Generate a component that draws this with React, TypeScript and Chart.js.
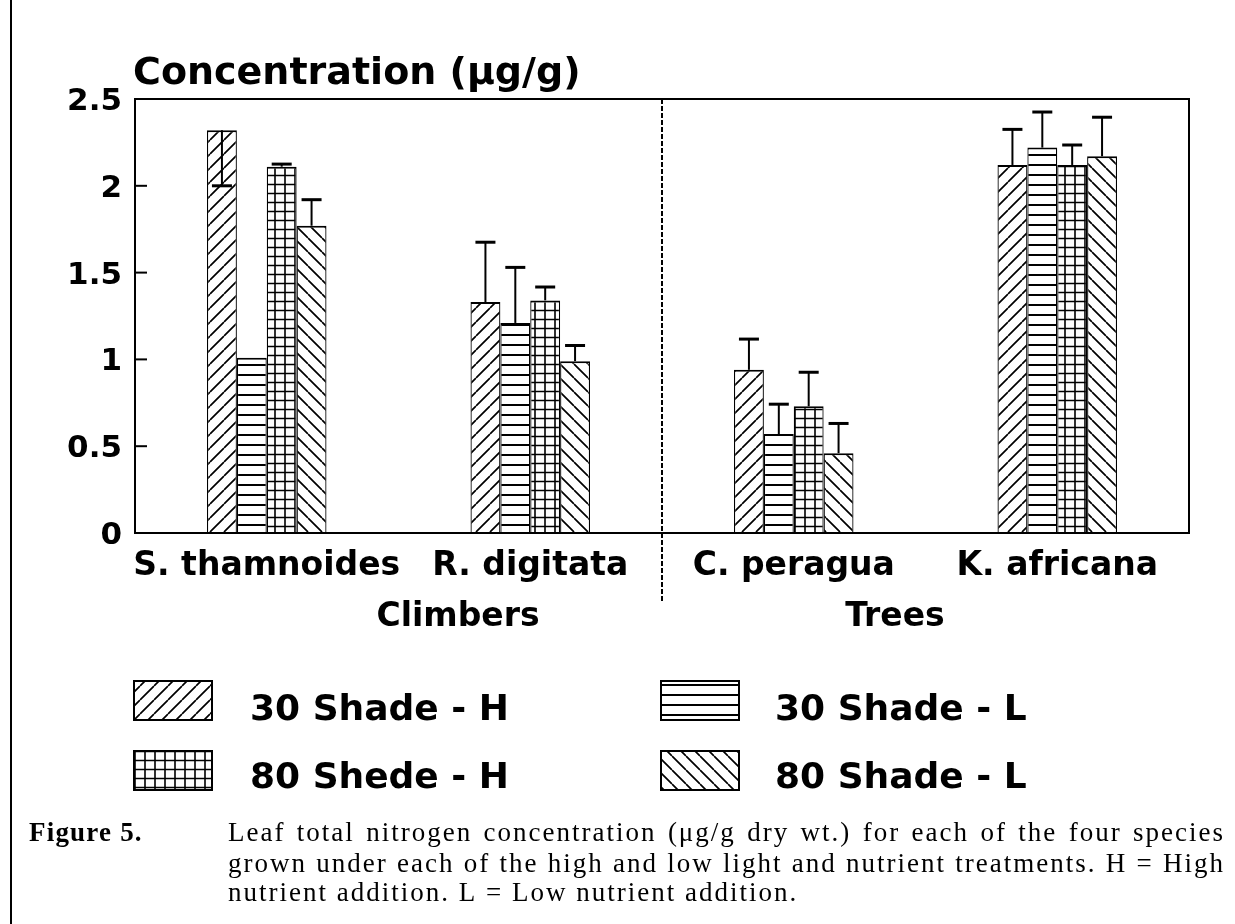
import React, { useEffect, useRef } from 'react';
import { Chart, registerables } from 'chart.js';

Chart.register(...registerables);

// ---------- data ----------
const categories = ['S. thamnoides', 'R. digitata', 'C. peragua', 'K. africana'];
const groupLabels = ['Climbers', 'Trees'];
const seriesNames = ['30 Shade - H', '30 Shade - L', '80 Shede - H', '80 Shade - L'];

const shade30H = [2.32, 1.33, 0.94, 2.12];
const shade30L = [1.01, 1.21, 0.57, 2.22];
const shade80H = [2.11, 1.34, 0.73, 2.12];
const shade80L = [1.77, 0.99, 0.46, 2.17];

// standard errors (negative = bar drawn downward, as printed in the figure)
const err30H = [-0.32, 0.345, 0.177, 0.205];
const err30L = [0, 0.32, 0.172, 0.205];
const err80H = [0.015, 0.077, 0.196, 0.115];
const err80L = [0.15, 0.09, 0.171, 0.225];

const yTickValues = [0, 0.5, 1, 1.5, 2, 2.5];
const yTickLabels = ['0', '0.5', '1', '1.5', '2', '2.5'];

const titleText = 'Concentration (\u00b5g/g)';
const figureLabel = 'Figure 5.';
const captionLines = [
  'Leaf total nitrogen concentration (\u03bcg/g dry wt.) for each of the four species',
  'grown under each of the high and low light and nutrient treatments. H = High',
  'nutrient addition. L = Low nutrient addition.',
];

const seriesValues = [shade30H, shade30L, shade80H, shade80L];
const seriesErrors = [err30H, err30L, err80H, err80L];
const hatchKinds = ['fwd', 'horiz', 'grid', 'back'];

const SANS = '"DejaVu Sans", "Liberation Sans", sans-serif';
const SERIF = '"Liberation Serif", "DejaVu Serif", serif';

function makeHatch(main: CanvasRenderingContext2D, kind: string): CanvasPattern {
  const c = document.createElement('canvas');
  let w = 14;
  let h = 14;
  if (kind === 'horiz') { w = 10; h = 10; }
  if (kind === 'grid') { w = 10; h = 9; }
  c.width = w;
  c.height = h;
  const g = c.getContext('2d') as CanvasRenderingContext2D;
  g.fillStyle = '#fff';
  g.fillRect(0, 0, w, h);
  g.strokeStyle = '#000';
  g.beginPath();
  if (kind === 'fwd') {
    g.lineWidth = 1.7;
    for (const o of [-w, 0, w]) { g.moveTo(o, h); g.lineTo(o + w, 0); }
  } else if (kind === 'back') {
    g.lineWidth = 1.7;
    for (const o of [-w, 0, w]) { g.moveTo(o, 0); g.lineTo(o + w, h); }
  } else if (kind === 'horiz') {
    g.lineWidth = 2;
    g.moveTo(0, 5); g.lineTo(w, 5);
  } else {
    g.lineWidth = 1.6;
    g.moveTo(0, 4.5); g.lineTo(w, 4.5);
    g.moveTo(5, 0); g.lineTo(5, h);
  }
  g.stroke();
  return main.createPattern(c, 'repeat') as CanvasPattern;
}

function drawJustified(ctx: CanvasRenderingContext2D, text: string, x: number, yb: number, width: number) {
  const words = text.split(' ');
  const ws = words.map((w) => ctx.measureText(w).width);
  const total = ws.reduce((s, v) => s + v, 0);
  const gap = (width - total) / (words.length - 1);
  let cx = x;
  words.forEach((w, k) => {
    ctx.fillText(w, cx, yb);
    cx += ws[k] + gap;
  });
}

const decorPlugin = {
  id: 'decor',
  afterDatasetsDraw(chart: any) {
    const { ctx, chartArea: a, scales } = chart;
    const x = scales.x;
    const y = scales.y;
    ctx.save();
    ctx.strokeStyle = '#000';
    // error bars
    chart.data.datasets.forEach((ds: any, i: number) => {
      const meta = chart.getDatasetMeta(i);
      meta.data.forEach((el: any, j: number) => {
        const e = seriesErrors[i][j];
        if (!e) return;
        const v = ds.data[j] as number;
        const yEnd = y.getPixelForValue(v + e);
        ctx.lineWidth = 2;
        ctx.beginPath();
        ctx.moveTo(el.x, el.y);
        ctx.lineTo(el.x, yEnd);
        ctx.stroke();
        ctx.lineWidth = 3;
        ctx.beginPath();
        ctx.moveTo(el.x - 10, yEnd);
        ctx.lineTo(el.x + 10, yEnd);
        ctx.stroke();
      });
    });
    // plot frame
    ctx.lineWidth = 2;
    ctx.strokeRect(a.left, a.top, a.right - a.left, a.bottom - a.top);
    // inward tick marks
    y.ticks.forEach((t: any) => {
      if (t.value <= y.min || t.value >= y.max) return;
      const py = y.getPixelForValue(t.value);
      ctx.beginPath();
      ctx.moveTo(a.left, py);
      ctx.lineTo(a.left + 12, py);
      ctx.stroke();
    });
    // dashed divider between climbers and trees
    const dx = (x.getPixelForValue(1) + x.getPixelForValue(2)) / 2;
    ctx.setLineDash([5, 2]);
    ctx.lineWidth = 2;
    ctx.beginPath();
    ctx.moveTo(dx, a.top);
    ctx.lineTo(dx, 602);
    ctx.stroke();
    ctx.restore();
  },
  afterDraw(chart: any) {
    const { ctx, scales } = chart;
    const x = scales.x;
    ctx.save();
    ctx.fillStyle = '#000';
    ctx.strokeStyle = '#000';
    // page border on the left
    ctx.lineWidth = 2;
    ctx.beginPath();
    ctx.moveTo(11, 0);
    ctx.lineTo(11, 924);
    ctx.stroke();
    // axis title
    ctx.textBaseline = 'alphabetic';
    ctx.textAlign = 'left';
    ctx.font = `bold 38px ${SANS}`;
    ctx.fillText(titleText, 133, 84);
    // group labels
    const x0 = x.getPixelForValue(0);
    const unit = x.getPixelForValue(1) - x0;
    const groupPos = [0.726, 2.384];
    ctx.font = `bold 33px ${SANS}`;
    ctx.textAlign = 'center';
    groupLabels.forEach((g, k) => ctx.fillText(g, x0 + groupPos[k] * unit, 626));
    // legend
    ctx.textAlign = 'left';
    ctx.font = `bold 36px ${SANS}`;
    const boxX = [134, 661];
    const boxY = [681, 751];
    const txtX = [250, 775];
    const txtY = [720, 788];
    chart.data.datasets.forEach((ds: any, i: number) => {
      const col = i % 2;
      const row = Math.floor(i / 2);
      ctx.fillStyle = ds.backgroundColor;
      ctx.fillRect(boxX[col], boxY[row], 78, 39);
      ctx.lineWidth = 2;
      ctx.strokeRect(boxX[col], boxY[row], 78, 39);
      ctx.fillStyle = '#000';
      ctx.fillText(ds.label, txtX[col], txtY[row]);
    });
    // caption
    try { (ctx as any).letterSpacing = '1.2px'; } catch (e) { /* ignore */ }
    ctx.font = `bold 27px ${SERIF}`;
    ctx.fillText(figureLabel, 29, 841);
    try { (ctx as any).letterSpacing = '2px'; } catch (e) { /* ignore */ }
    ctx.font = `27px ${SERIF}`;
    const capY = [841, 872, 901];
    captionLines.forEach((line, k) => {
      if (k < 2) drawJustified(ctx, line, 228, capY[k], 997);
      else ctx.fillText(line, 228, capY[k]);
    });
    try { (ctx as any).letterSpacing = '0px'; } catch (e) { /* ignore */ }
    ctx.restore();
  },
};

export default function App() {
  const ref = useRef<HTMLCanvasElement | null>(null);
  useEffect(() => {
    document.body.style.margin = '0';
    const canvas = ref.current;
    if (!canvas) return;
    const main = canvas.getContext('2d') as CanvasRenderingContext2D;
    const chart = new Chart(canvas, {
      type: 'bar',
      data: {
        labels: categories,
        datasets: seriesValues.map((vals, i) => ({
          label: seriesNames[i],
          data: vals,
          backgroundColor: makeHatch(main, hatchKinds[i]) as any,
          borderColor: '#000',
          borderWidth: { top: 2, left: 1.25, right: 1.25, bottom: 0 },
          borderSkipped: false,
          barPercentage: 1,
          categoryPercentage: 0.4535,
        })),
      },
      options: {
        responsive: false,
        animation: false,
        devicePixelRatio: 1,
        layout: { padding: { top: 99, right: 46, left: 0, bottom: 0 } },
        plugins: { legend: { display: false }, tooltip: { enabled: false } },
        scales: {
          x: {
            grid: { display: false, drawTicks: false },
            border: { display: false },
            ticks: {
              color: '#000',
              font: { family: SANS, weight: 'bold', size: 33 },
              padding: 14,
              maxRotation: 0,
              autoSkip: false,
            },
            afterFit: (s: any) => { s.height = 391; },
          },
          y: {
            min: 0,
            max: 2.5,
            grid: { display: false, drawTicks: false },
            border: { display: false },
            afterBuildTicks: (s: any) => { s.ticks = yTickValues.map((v) => ({ value: v })); },
            ticks: {
              color: '#000',
              font: { family: SANS, weight: 'bold', size: 31 },
              padding: 13,
              labelOffset: 3,
              callback: (v: any) => {
                const k = yTickValues.indexOf(Number(v));
                return k >= 0 ? yTickLabels[k] : String(v);
              },
            },
            afterFit: (s: any) => { s.width = 135; },
          },
        },
      } as any,
      plugins: [decorPlugin],
    });
    return () => chart.destroy();
  }, []);
  return <canvas ref={ref} width={1235} height={924} style={{ display: 'block' }} />;
}
